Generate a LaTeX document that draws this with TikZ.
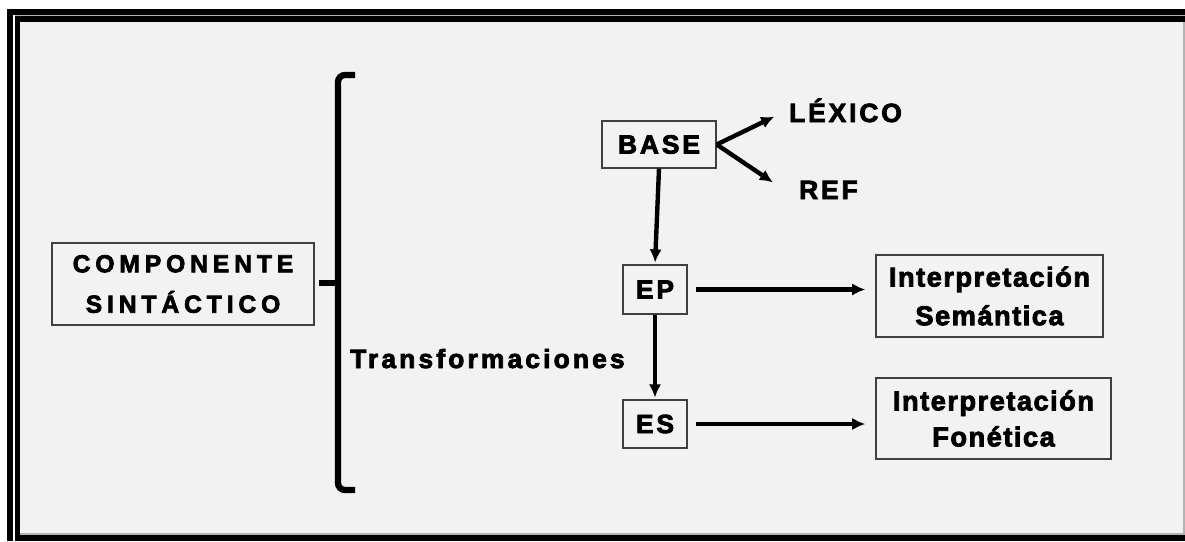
\documentclass[tikz,border=0pt]{standalone}
\usepackage{fontspec}
\setmainfont{Liberation Sans}
\usetikzlibrary{shapes,arrows,arrows.meta,positioning}
\definecolor{panel}{HTML}{F2F2F2}
\definecolor{boxline}{HTML}{404040}
\newcommand{\wide}[1]{\bfseries\addfontfeature{LetterSpace=#1,FakeBold=3}}

\begin{document}
\begin{tikzpicture}[x=0.02cm, y=-0.02cm, >={Latex[length=7.5pt,width=7pt]}, line width=2.5pt,
  box/.style={draw=boxline, line width=0.8pt, fill=panel, inner sep=0pt, align=center},
  lbl/.style={inner sep=0pt}]
        % frame
        \fill[white] (0,0) rectangle (1185,541);
        \useasboundingbox (0,0) rectangle (1185,541);
        \fill[black] (7,9) rectangle (1185,541);
        \fill[white] (13,15) rectangle (15,541);
        \fill[gray!60] (15,15) rectangle (1185,16);
        \fill[gray!60] (20,22) rectangle (1185,535);
        \fill[panel] (20,22) rectangle (1183,533);
        % nodes
        \node [box, minimum width=5.24cm, minimum height=1.64cm,
          font=\fontsize{14}{23}\selectfont\wide{20}] (cs) at (183,284) {COMPONENTE\\SINT\'ACTICO};
        \node [box, minimum width=2.28cm, minimum height=0.94cm,
          font=\fontsize{15}{18}\selectfont\wide{11}] (base) at (659,144.5) {BASE};
        \node [box, minimum width=1.28cm, minimum height=0.98cm,
          font=\fontsize{15}{18}\selectfont\wide{11}] (ep) at (655,289.5) {EP};
        \node [box, minimum width=1.28cm, minimum height=0.96cm,
          font=\fontsize{15}{18}\selectfont\wide{11}] (es) at (655,424) {ES};
        \node [box, minimum width=4.54cm, minimum height=1.64cm,
          font=\fontsize{15.5}{22}\selectfont\wide{5.5}] (sem) at (989.5,296) {Interpretaci\'on\\Sem\'antica};
        \node [box, minimum width=4.70cm, minimum height=1.62cm,
          font=\fontsize{15.5}{20.5}\selectfont\wide{5.5}] (fon) at (993.5,418.5) {Interpretaci\'on\\Fon\'etica};
        \node [lbl, anchor=base west, font=\fontsize{15}{18}\selectfont\wide{11}] (lex) at (787,122) {L\'EXICO};
        \node [lbl, anchor=base west, font=\fontsize{15}{18}\selectfont\wide{11}] (ref) at (797,199) {REF};
        \node [lbl, anchor=base west, font=\fontsize{15}{18}\selectfont\wide{12}] (tr) at (348,368) {Transformaciones};
        % brace
        \coordinate (bmid) at (338,283);
        \draw [line width=3.6pt, rounded corners=4pt] (355,75) -- (338,75) -- (338,490) -- (355,490);
        \draw [line width=3.6pt] ([xshift=0.08cm]cs.east |- bmid) -- (bmid);
        % arrows
        \path [->] (base.east) edge [shorten >=0.28cm] (lex.west);
        \path [->] (base.east) edge ([xshift=-0.48cm,yshift=0.15cm]ref.west);
        \path [->] (base.south) edge [shorten >=1pt] (ep.north);
        \path [->] (ep.south) edge [shorten >=1pt] (es.north);
        \path [->] (ep.east) edge [shorten <=0.16cm, shorten >=0.2cm] (ep.east -| sem.west);
        \path [->] (es.east) edge [shorten <=0.16cm, shorten >=0.2cm] (es.east -| fon.west);
\end{tikzpicture}
\end{document}
